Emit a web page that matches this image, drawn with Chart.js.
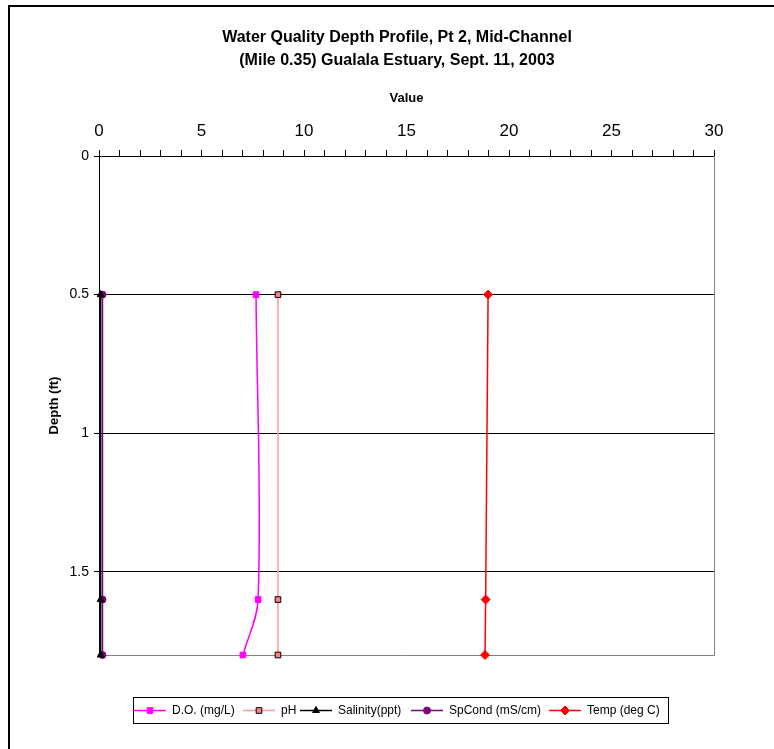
<!DOCTYPE html>
<html>
<head>
<meta charset="utf-8">
<script src="https://cdn.jsdelivr.net/npm/chart.js@4/dist/chart.umd.min.js"></script>
<style>
  html, body { margin: 0; padding: 0; background: #fff; overflow: hidden; }
  #wrap { width: 774px; height: 749px; }
</style>
</head>
<body>
<div id="wrap"><canvas id="myChart" width="774" height="749"></canvas></div>
<script>
// chart data
const depths = [0.5, 1.6, 1.8];
const doValues = [7.66, 7.76, 7.02];
const phValues = [8.73, 8.73, 8.73];
const salinityValues = [0.08, 0.08, 0.08];
const spCondValues = [0.17, 0.17, 0.17];
const tempValues = [18.98, 18.86, 18.83];
const seriesNames = ['D.O. (mg/L)', 'pH', 'Salinity(ppt)', 'SpCond (mS/cm)', 'Temp (deg C)'];
const titleLines = ['Water Quality Depth Profile, Pt 2, Mid-Channel', '(Mile 0.35) Gualala Estuary, Sept. 11, 2003'];

const FONT = 'Arial, "Liberation Sans", sans-serif';
// legend item left edges
const legendX = [134, 243, 300, 411, 549];

function points(vals) {
    return vals.map((v, i) => ({ x: v, y: depths[i] }));
}

const styles = [
    { line: '#FF00FF', fill: '#FF00FF', border: '#FF00FF', shape: 'rect', r: 4 },
    { line: '#FF9999', fill: '#FF8080', border: '#000000', shape: 'rect', r: 4 },
    { line: '#000000', fill: '#000000', border: '#000000', shape: 'triangle', r: 4 },
    { line: '#800080', fill: '#800080', border: '#800080', shape: 'circle', r: 3.5 },
    { line: '#FF0000', fill: '#FF0000', border: '#FF0000', shape: 'rectRot', r: 4.5 }
];

const allValues = [doValues, phValues, salinityValues, spCondValues, tempValues];

const datasets = allValues.map((vals, i) => ({
    label: seriesNames[i],
    data: points(vals),
    borderColor: styles[i].line,
    borderWidth: 1.5,
    backgroundColor: styles[i].fill,
    pointBackgroundColor: styles[i].fill,
    pointBorderColor: styles[i].border,
    pointBorderWidth: 1,
    pointStyle: styles[i].shape,
    pointRadius: styles[i].r,
    tension: 0.35,
    fill: false,
    clip: false
}));

// titles, frame and legend
const decor = {
    id: 'decor',
    beforeDatasetsDraw(chart) {
        const { ctx, chartArea: a } = chart;
        ctx.save();
        ctx.strokeStyle = '#808080';
        ctx.lineWidth = 1;
        ctx.beginPath();
        ctx.moveTo(a.right + 0.5, a.top);
        ctx.lineTo(a.right + 0.5, a.bottom + 0.5);
        ctx.lineTo(a.left, a.bottom + 0.5);
        ctx.stroke();
        ctx.restore();
    },
    afterDraw(chart) {
        const { ctx } = chart;
        ctx.save();
        // outer frame
        ctx.strokeStyle = '#000';
        ctx.lineWidth = 2;
        ctx.beginPath();
        ctx.moveTo(9, 749);
        ctx.lineTo(9, 6);
        ctx.lineTo(774, 6);
        ctx.stroke();

        // title
        ctx.fillStyle = '#000';
        ctx.font = 'bold 16px ' + FONT;
        ctx.textAlign = 'center';
        ctx.textBaseline = 'middle';
        ctx.fillText(titleLines[0], 397, 38);
        ctx.fillText(titleLines[1], 397, 61);

        // legend
        const lx = 133, ly = 697, lw = 535, lh = 26;
        ctx.strokeStyle = '#000';
        ctx.lineWidth = 1;
        ctx.strokeRect(lx + 0.5, ly + 0.5, lw, lh);
        ctx.font = '12px ' + FONT;
        ctx.textAlign = 'left';
        const cy = ly + lh / 2 + 0.5;
        chart.data.datasets.forEach((ds, i) => {
            const x = legendX[i];
            ctx.strokeStyle = ds.borderColor;
            ctx.lineWidth = 1.5;
            ctx.beginPath();
            ctx.moveTo(x, cy);
            ctx.lineTo(x + 32, cy);
            ctx.stroke();
            ctx.fillStyle = ds.pointBackgroundColor;
            ctx.strokeStyle = ds.pointBorderColor;
            ctx.lineWidth = 1;
            Chart.helpers.drawPoint(ctx, {
                pointStyle: ds.pointStyle,
                radius: ds.pointRadius,
                borderWidth: 1,
                rotation: 0
            }, x + 16, cy);
            ctx.fillStyle = '#000';
            ctx.fillText(ds.label, x + 38, cy);
        });
        ctx.restore();
    }
};

const ctx = document.getElementById('myChart').getContext('2d');
const myChart = new Chart(ctx, {
    type: 'line',
    data: { datasets: datasets },
    plugins: [decor],
    options: {
        responsive: false,
        animation: false,
        layout: { padding: { top: 80, left: 0, right: 60, bottom: 94 } },
        plugins: {
            legend: { display: false },
            tooltip: { enabled: false }
        },
        scales: {
            x: {
                type: 'linear',
                position: 'top',
                min: 0,
                max: 30,
                afterFit: (s) => { s.height = 76; },
                ticks: {
                    stepSize: 1,
                    autoSkip: false,
                    maxRotation: 0,
                    padding: 8,
                    color: '#000',
                    font: { family: FONT, size: 17 },
                    callback: (v) => (v % 5 === 0 ? String(v) : '')
                },
                grid: { drawOnChartArea: false, drawTicks: true, tickLength: 6, color: '#000' },
                border: { color: '#000', width: 1 },
                title: {
                    display: true,
                    text: 'Value',
                    color: '#000',
                    font: { family: FONT, size: 13, weight: 'bold' },
                    padding: { top: 11, bottom: 0 }
                }
            },
            y: {
                type: 'linear',
                reverse: true,
                min: 0,
                max: 1.8,
                afterFit: (s) => { s.width = 99; },
                ticks: {
                    stepSize: 0.5,
                    includeBounds: false,
                    padding: 5,
                    color: '#000',
                    font: { family: FONT, size: 14 },
                    callback: (v) => String(v)
                },
                grid: { color: '#000', lineWidth: 1, drawTicks: true, tickLength: 5 },
                border: { color: '#000', width: 1 },
                title: {
                    display: true,
                    text: 'Depth (ft)',
                    color: '#000',
                    font: { family: FONT, size: 13, weight: 'bold' },
                    padding: { top: 47, bottom: 0 }
                }
            }
        }
    }
});
</script>
</body>
</html>
